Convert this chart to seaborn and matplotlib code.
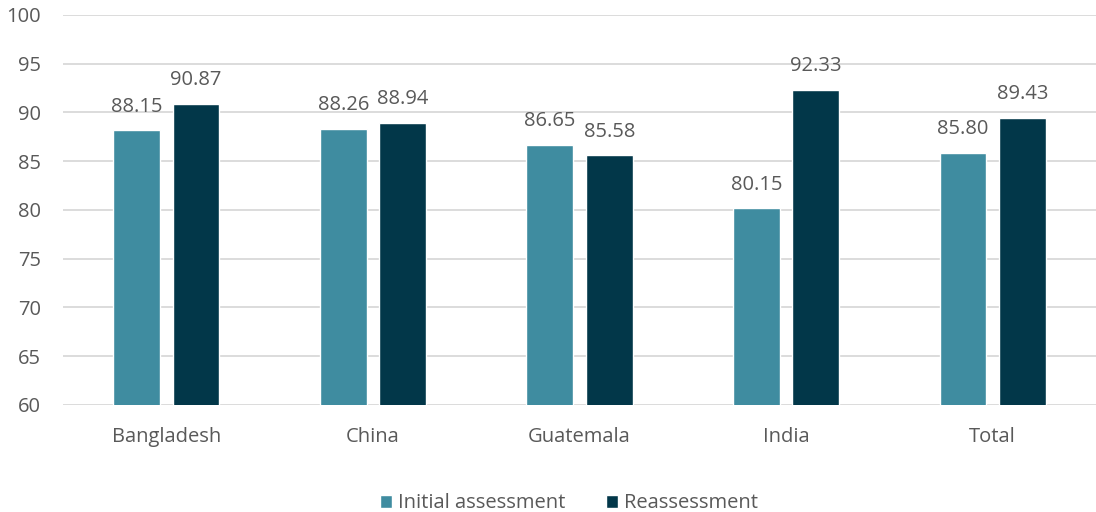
import pandas as pd
import seaborn as sns
import matplotlib.pyplot as plt

countries = ["Bangladesh", "China", "Guatemala", "India", "Total"]
initial = [88.15, 88.26, 86.65, 80.15, 85.80]
reassess = [90.87, 88.94, 85.58, 92.33, 89.43]
series = ["Initial assessment", "Reassessment"]
colors = ["#3F8CA0", "#023749"]

df = pd.DataFrame({
    "country": countries * 2,
    "score": initial + reassess,
    "phase": [series[0]] * len(countries) + [series[1]] * len(countries),
})

sns.set_style("white")
plt.rcParams['font.family'] = ['Open Sans', 'DejaVu Sans']
txt = "#595959"

fig = plt.figure(figsize=(10.96, 5.12), dpi=100)
ax = fig.add_axes([0.0575, 0.209, 0.9425, 0.762])

sns.barplot(data=df, x="country", y="score", hue="phase", palette=colors,
            saturation=1, width=0.575, gap=0.21, ax=ax, zorder=3)

ax.set_ylim(60, 100)
ax.set_yticks(range(60, 101, 5))
ax.grid(axis="y", color="#D9D9D9", linewidth=1.3, zorder=0)
ax.set_axisbelow(True)
for s in ax.spines.values():
    s.set_visible(False)
ax.tick_params(axis="both", length=0, labelsize=14.5, labelcolor=txt)
ax.tick_params(axis="y", pad=16)
ax.tick_params(axis="x", pad=16)
ax.set_xlabel("")
ax.set_ylabel("")

for cont in ax.containers:
    ax.bar_label(cont, fmt="%.2f", padding=10, fontsize=14.5, color=txt)

ax.legend(loc="upper center", bbox_to_anchor=(0.49, -0.18), ncol=2, frameon=False,
          fontsize=14.5, labelcolor=txt, handlelength=0.6, handleheight=0.6,
          handletextpad=0.3, columnspacing=2.0)

fig.savefig("out.png", dpi=100)
